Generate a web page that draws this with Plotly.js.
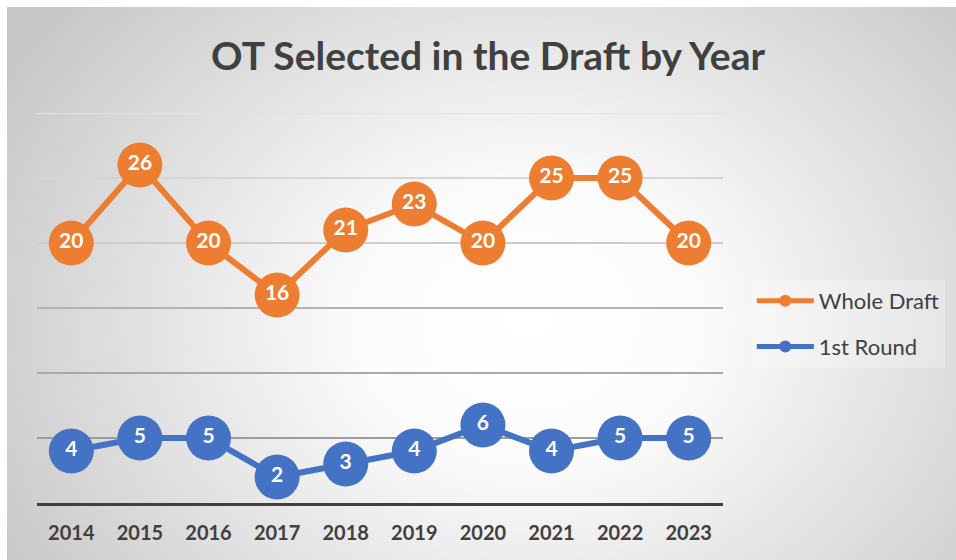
<!DOCTYPE html>
<html>
<head>
<meta charset="utf-8">
<script src="https://cdn.plot.ly/plotly-3.0.1.min.js"></script>
<style>
  html, body { margin: 0; padding: 0; background: #ffffff; }
  #bg { position: absolute; left: 7px; top: 7px; width: 949px; height: 553px;
        background: radial-gradient(ellipse 620px 500px at 55% 57%, #ffffff 0%, #fbfbfb 28%, #e2e2e2 62%, #c6c6c6 100%); }
  #chart { position: absolute; left: 0; top: 0; width: 956px; height: 560px; }
</style>
</head>
<body>
<div id="bg"></div>
<div id="chart"></div>
<script>
const years = ["2014","2015","2016","2017","2018","2019","2020","2021","2022","2023"];
const wholeDraft = [20, 26, 20, 16, 21, 23, 20, 25, 25, 20];
const firstRound = [4, 5, 5, 2, 3, 4, 6, 4, 5, 5];
const gridValues = [5, 10, 15, 20, 25, 30];
const gridColors = ["#9c9c9c", "#a9a9a9", "#b2b2b2", "#cdcdcd", "#d6d6d6", "#e2e2e2"];

const FONT = "Lato, 'Open Sans', sans-serif";
const ORANGE = "#ED7D31";
const BLUE = "#4472C4";

function series(name, vals, color, group) {
  return {
    type: "scatter",
    mode: "lines+markers+text",
    name: name,
    legendgroup: group,
    x: years,
    y: vals,
    text: vals.map(String),
    textposition: "middle center",
    textfont: { family: FONT, size: 21, color: "#ffffff", weight: "bold" },
    line: { color: color, width: 6 },
    marker: { color: color, size: 45 },
    cliponaxis: false
  };
}

const data = [
  series("Whole Draft", wholeDraft, ORANGE, "a"),
  series("1st Round", firstRound, BLUE, "b")
];

const shapes = gridValues.map((v, i) => ({
  type: "line", xref: "paper", yref: "y", x0: 0, x1: 1, y0: v, y1: v,
  line: { color: gridColors[i], width: 2 }, layer: "below"
}));

const layout = {
  width: 956, height: 560,
  paper_bgcolor: "rgba(0,0,0,0)",
  plot_bgcolor: "rgba(0,0,0,0)",
  margin: { l: 37, r: 233, t: 113, b: 57, pad: 0, autoexpand: false },
  title: {
    text: "OT Selected in the Draft by Year",
    font: { family: FONT, size: 39, color: "#404040", weight: "bold" },
    xref: "container", yref: "container",
    x: 0.5105, xanchor: "center",
    y: 0.900, yanchor: "middle"
  },
  xaxis: {
    type: "category",
    range: [-0.5, 9.5],
    showgrid: false,
    zeroline: false,
    showline: true, linecolor: "#404040", linewidth: 3,
    ticks: "",
    tickfont: { family: FONT, size: 20, color: "#404040", weight: "bold" },
    ticklabelstandoff: 10,
    automargin: false
  },
  yaxis: {
    range: [0, 30],
    showgrid: false,
    zeroline: false,
    showticklabels: false,
    ticks: "",
    fixedrange: true,
    automargin: false
  },
  shapes: shapes,
  showlegend: true,
  legend: {
    x: 1.042, xanchor: "left",
    y: 0.459, yanchor: "middle",
    bgcolor: "rgba(255,255,255,0.25)",
    font: { family: FONT, size: 22, color: "#404040" },
    itemwidth: 57,
    itemsizing: "constant",
    tracegroupgap: 14,
    traceorder: "grouped"
  }
};

Plotly.newPlot("chart", data, layout, { staticPlot: true, displayModeBar: false });
</script>
</body>
</html>
